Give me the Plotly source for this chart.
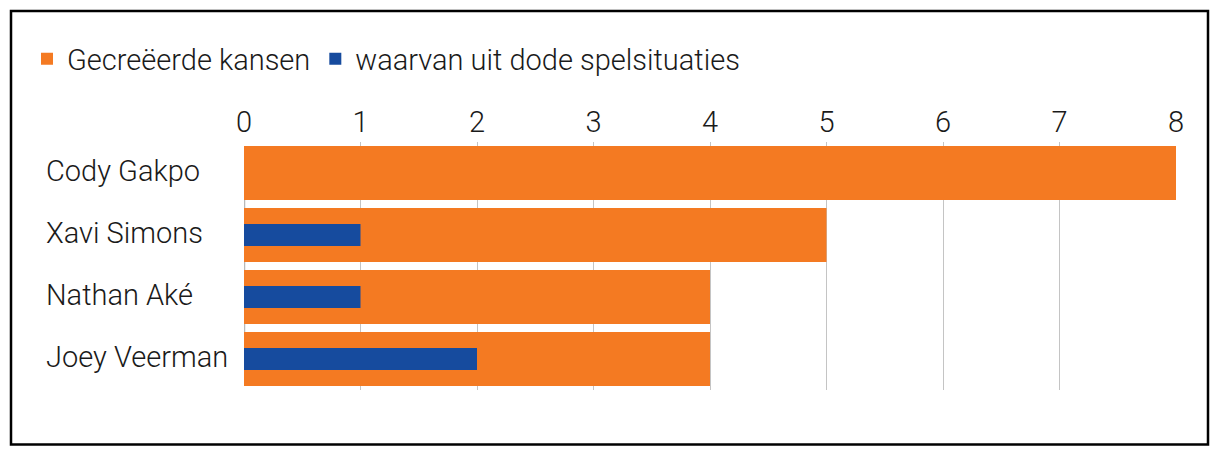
import plotly.graph_objects as go

players = ["Cody Gakpo", "Xavi Simons", "Nathan Aké", "Joey Veerman"]
created = [8, 5, 4, 4]
set_pieces = [0, 1, 1, 2]
series_names = ["Gecreëerde kansen", "waarvan uit dode spelsituaties"]
x_ticks = [0, 1, 2, 3, 4, 5, 6, 7, 8]

ORANGE = "#F47A22"
BLUE = "#164B9E"
FONT = "Roboto"
TXT = "#1a1a1a"
FS = 29
WEIGHT = 300

OFF = 8  # default page body margin
W, H = 1220 - OFF, 458 - OFF
L = 244 - OFF
T = 142 - OFF
R = W - (1176 - OFF)
B = H - (390 - OFF)
pw, ph = W - L - R, H - T - B


def px(xpage):
    return (xpage - OFF - L) / pw


def py(ypage):
    return (H - B - (ypage - OFF)) / ph


fig = go.Figure()
fig.add_trace(go.Bar(y=players, x=created, orientation="h", name=series_names[0],
                     marker=dict(color=ORANGE, line_width=0), width=0.87))
fig.add_trace(go.Bar(y=players, x=set_pieces, orientation="h", name=series_names[1],
                     marker=dict(color=BLUE, line_width=0), width=0.355))

for p in players:
    fig.add_annotation(x=px(44), xref="paper", y=p, yref="y", text=p, showarrow=False,
                       xanchor="left", yanchor="middle", yshift=2,
                       font=dict(family=FONT, size=FS, color=TXT, weight=WEIGHT))

fig.add_shape(type="rect", xref="paper", yref="paper", x0=px(11), x1=px(1208), y0=py(444.5), y1=py(11),
              line=dict(color="black", width=2.5), fillcolor="rgba(0,0,0,0)", layer="above")

fig.add_shape(type="line", xref="x", yref="paper", x0=0, x1=0, y0=py(386), y1=py(146),
              line=dict(color="#b8b8b8", width=2.5), layer="below")

fig.update_layout(
    width=W, height=H, margin=dict(l=L, r=R, t=T, b=B),
    barmode="overlay", plot_bgcolor="white", paper_bgcolor="white",
    font=dict(family=FONT, size=FS, color=TXT, weight=WEIGHT),
    legend=dict(orientation="h", x=px(27), y=py(59), xanchor="left", yanchor="middle",
                font=dict(family=FONT, size=FS, color=TXT, weight=WEIGHT),
                traceorder="normal", bgcolor="rgba(0,0,0,0)", itemwidth=30),
    xaxis=dict(side="top", range=[0, 8], tickvals=x_ticks, showgrid=True, gridcolor="#c4c4c4",
               gridwidth=1, zeroline=False, showline=False, ticks="", ticklabelstandoff=3,
               tickfont=dict(family=FONT, size=FS, color=TXT, weight=WEIGHT), fixedrange=True),
    yaxis=dict(autorange="reversed", showticklabels=False, showgrid=False, zeroline=False,
               showline=False, ticks=""),
)

fig.write_html("out.html")
